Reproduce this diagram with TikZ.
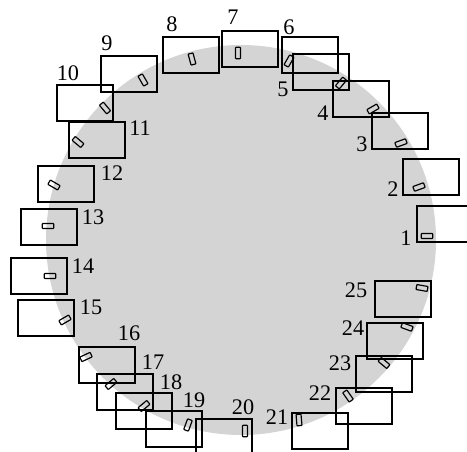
\documentclass[tikz,border=0pt]{standalone}
\usepackage{fontspec}
\setmainfont{Liberation Serif}

\begin{document}
\begin{tikzpicture}[x=0.03cm, y=-0.03cm]
    % Colours
    \definecolor{blobgray}{RGB}{212, 212, 212}

    \tikzset{
        cellbox/.style={draw, line width=1pt, minimum width=1.68cm, minimum height=1.08cm, inner sep=0pt},
        grain/.style={draw, line width=1pt, rounded corners=0.5pt, minimum width=0.34cm, minimum height=0.15cm, inner sep=0pt},
        numlabel/.style={font=\fontsize{19}{20}\selectfont, inner sep=0pt}
    }

    % Frame of the picture
    \clip (0,0) rectangle (467,452);

    % Gray disc
    \fill[blobgray] (241,240) circle (195);

    % Boxes, grains and numbers: index / box centre / grain centre / grain angle / label centre
    \foreach \i/\bx/\by/\gx/\gy/\ang/\lx/\ly in {
        1/445/224/427/236/0/406/238,
        2/431/177/419/187/20/393/189,
        3/400/131/401/143/20/362/144,
        4/361/99/373/109/30/323/113,
        5/321/72/341/83/50/283/89,
        6/310/55/289/61/60/289/27,
        7/250/49/238/53/90/233/17,
        8/191/55/192/59/105/172/24,
        9/129/74/143/80/120/107/43,
        10/85/103/105/108/130/68/73,
        11/97/140/78/142/140/140/128,
        12/66/184/54/185/150/112/173,
        13/49/227/48/226/0/93/217,
        14/39/276/50/276/0/83/266,
        15/46/318/65/320/30/91/307,
        16/107/365/86/357/25/129/333,
        17/125/392/111/384/40/153/362,
        18/144/411/144/406/40/171/382,
        19/174/429/188/425/70/194/400,
        20/224/437/245/431/90/243/407,
        21/320/431/299/420/95/277/417,
        22/364/406/348/396/125/320/393,
        23/384/374/384/363/140/340/363,
        24/395/341/407/327/160/353/328,
        25/403/299/422/288/170/356/290} {
        \node[cellbox] (box\i) at (\bx,\by) {};
        \node[grain, rotate=\ang] (grain\i) at (\gx,\gy) {};
        \node[numlabel] (num\i) at (\lx,\ly) {\i};
    }

\end{tikzpicture}
\end{document}
